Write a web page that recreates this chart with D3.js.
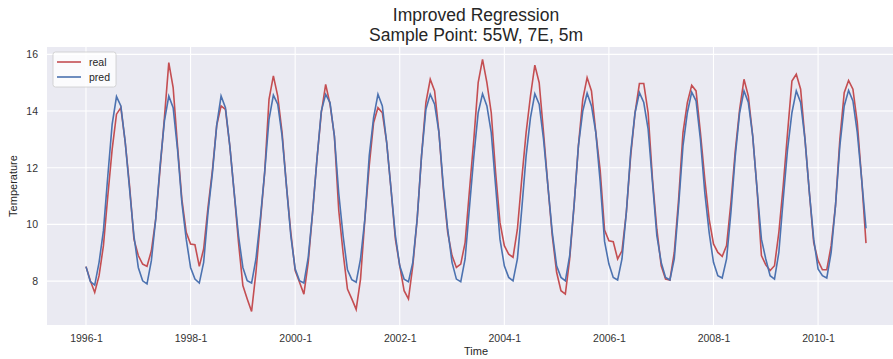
<!DOCTYPE html>
<html>
<head>
<meta charset="utf-8">
<script src="https://cdn.jsdelivr.net/npm/d3@7"></script>
<style>
  body { margin: 0; background: #fff; }
  svg { display: block; font-family: "Liberation Sans", Arial, sans-serif; }
</style>
</head>
<body>
<svg id="chart" width="893" height="359"></svg>
<script>
// Monthly series, 1996-1 .. 2010-12
const startYear = 1996;

const real = [
  8.51, 8.01, 7.60, 8.19, 9.25, 11.0, 12.65, 13.89, 14.12, 12.9, 11.36, 9.48,   // 1996
  8.9, 8.6, 8.52, 9.07, 10.19, 11.95, 13.77, 15.71, 14.83, 12.77, 10.89, 9.72,  // 1997
  9.31, 9.28, 8.52, 9.13, 10.6, 11.9, 13.5, 14.18, 14.06, 12.77, 11.13, 9.36,   // 1998
  7.84, 7.37, 6.93, 8.31, 10.07, 11.83, 14.41, 15.24, 14.53, 13.24, 11.36, 9.72, // 1999
  8.37, 7.96, 7.54, 8.66, 10.42, 12.3, 13.94, 14.94, 14.24, 13.12, 10.5, 9.0,   // 2000
  7.72, 7.37, 7.0, 8.07, 10.19, 12.07, 13.59, 14.12, 13.94, 12.89, 11.24, 9.48, // 2001
  8.54, 7.66, 7.37, 8.54, 10.19, 12.42, 14.3, 15.12, 14.71, 13.24, 11.24, 9.72, // 2002
  8.9, 8.48, 8.6, 9.36, 11.2, 13.0, 15.0, 15.82, 15.0, 13.94, 11.83, 10.07,     // 2003
  9.25, 8.95, 8.84, 9.83, 11.6, 13.24, 14.53, 15.62, 15.0, 13.24, 11.36, 9.6,   // 2004
  8.31, 7.66, 7.54, 8.78, 10.66, 12.77, 14.41, 15.18, 14.71, 13.24, 11.9, 9.8,  // 2005
  9.42, 9.39, 8.78, 9.07, 10.42, 12.42, 13.94, 14.97, 14.97, 13.94, 11.6, 9.83, // 2006
  8.54, 8.07, 8.04, 9.01, 10.89, 13.24, 14.3, 14.91, 14.71, 13.24, 11.6, 10.19, // 2007
  9.31, 9.01, 8.87, 9.25, 10.77, 12.6, 14.06, 15.12, 14.53, 13.12, 11.24, 8.9,  // 2008
  8.57, 8.37, 8.54, 9.72, 11.36, 13.24, 15.06, 15.3, 14.77, 13.0, 11.13, 9.36,  // 2009
  8.72, 8.4, 8.4, 9.25, 10.66, 13.0, 14.65, 15.08, 14.77, 13.59, 11.6, 9.34     // 2010
];

const pred = [
  8.51, 7.98, 7.86, 8.66, 9.78, 11.7, 13.53, 14.51, 14.18, 12.9, 11.24, 9.6,    // 1996
  8.48, 8.01, 7.9, 8.72, 10.19, 12.07, 13.65, 14.53, 14.12, 12.65, 10.77, 9.48, // 1997
  8.48, 8.07, 7.93, 8.66, 10.42, 11.8, 13.5, 14.53, 14.12, 12.77, 11.13, 9.6,   // 1998
  8.48, 8.01, 7.93, 8.78, 10.19, 11.83, 13.71, 14.56, 14.24, 13.12, 11.36, 9.6, // 1999
  8.43, 8.01, 7.93, 8.84, 10.42, 12.3, 14.0, 14.59, 14.3, 13.12, 11.1, 9.6,     // 2000
  8.4, 8.05, 7.96, 8.78, 10.19, 12.42, 13.77, 14.59, 14.18, 12.89, 11.24, 9.6,  // 2001
  8.54, 8.07, 7.98, 8.66, 10.19, 12.42, 14.06, 14.59, 14.24, 13.24, 11.36, 9.83, // 2002
  8.66, 8.07, 7.98, 8.78, 10.6, 12.4, 13.94, 14.61, 14.18, 13.24, 11.36, 9.48,  // 2003
  8.54, 8.13, 8.01, 8.78, 10.54, 12.42, 13.77, 14.61, 14.24, 13.0, 11.36, 9.72, // 2004
  8.54, 8.13, 8.01, 8.9, 10.66, 12.77, 14.0, 14.63, 14.18, 13.24, 11.5, 9.4,    // 2005
  8.6, 8.13, 8.04, 8.78, 10.42, 12.54, 13.94, 14.65, 14.3, 13.36, 11.48, 9.6,   // 2006
  8.66, 8.13, 8.04, 8.78, 10.66, 12.77, 13.94, 14.67, 14.36, 13.0, 11.13, 9.72, // 2007
  8.66, 8.19, 8.11, 8.78, 10.42, 12.42, 13.94, 14.71, 14.3, 13.12, 11.24, 9.48, // 2008
  8.78, 8.19, 8.07, 9.01, 10.89, 12.65, 13.94, 14.71, 14.3, 13.0, 11.13, 9.48,  // 2009
  8.43, 8.19, 8.11, 9.01, 10.66, 12.77, 14.18, 14.73, 14.36, 13.24, 11.6, 9.86  // 2010
];

const xTicks = [0, 24, 48, 72, 96, 120, 144, 168];
const yTicks = [8, 10, 12, 14, 16];

const titleLines = ['Improved Regression', 'Sample Point: 55W, 7E, 5m'];

// Display settings
const bg = '#EAEAF2';
const colorReal = '#C44E52';
const colorPred = '#4C72B0';

const svg = d3.select('#chart');
const plot = { left: 47, top: 47, right: 905, bottom: 325 };

// matplotlib-like 5% margins
const n = real.length;
const xPad = (n - 1) * 0.05;
const x = d3.scaleLinear()
  .domain([-xPad, n - 1 + xPad])
  .range([plot.left, plot.right]);

const y = d3.scaleLinear()
  .domain([6.45, 16.26])
  .range([plot.bottom, plot.top]);

// Plot background
svg.append('rect')
  .attr('x', plot.left)
  .attr('y', plot.top)
  .attr('width', plot.right - plot.left)
  .attr('height', plot.bottom - plot.top)
  .attr('fill', bg);

// Grid lines
svg.append('g')
  .selectAll('line')
  .data(yTicks)
  .join('line')
  .attr('x1', plot.left).attr('x2', plot.right)
  .attr('y1', d => y(d)).attr('y2', d => y(d))
  .attr('stroke', '#fff').attr('stroke-width', 1.1);

svg.append('g')
  .selectAll('line')
  .data(xTicks)
  .join('line')
  .attr('y1', plot.top).attr('y2', plot.bottom)
  .attr('x1', d => x(d)).attr('x2', d => x(d))
  .attr('stroke', '#fff').attr('stroke-width', 1.1);

// Axes (labels only, seaborn darkgrid has no spines)
const xAxis = svg.append('g')
  .attr('transform', `translate(0,${plot.bottom})`)
  .call(d3.axisBottom(x)
    .tickValues(xTicks)
    .tickSize(0)
    .tickPadding(10)
    .tickFormat(d => `${startYear + d / 12}-1`));

const yAxis = svg.append('g')
  .attr('transform', `translate(${plot.left},0)`)
  .call(d3.axisLeft(y)
    .tickValues(yTicks)
    .tickSize(0)
    .tickPadding(9)
    .tickFormat(d3.format('d')));

[xAxis, yAxis].forEach(g => {
  g.select('.domain').remove();
  g.selectAll('text')
    .attr('fill', '#333')
    .style('font-size', '10.5px')
    .style('font-family', '"Liberation Sans", Arial, sans-serif');
});

// Series lines
const line = d3.line()
  .x((d, i) => x(i))
  .y(d => y(d));

svg.append('path')
  .datum(real)
  .attr('d', line)
  .attr('fill', 'none')
  .attr('stroke', colorReal)
  .attr('stroke-width', 1.6);

svg.append('path')
  .datum(pred)
  .attr('d', line)
  .attr('fill', 'none')
  .attr('stroke', colorPred)
  .attr('stroke-width', 1.6);

// Title
svg.append('text')
  .attr('text-anchor', 'middle')
  .attr('fill', '#262626')
  .style('font-size', '17.5px')
  .selectAll('tspan')
  .data(titleLines)
  .join('tspan')
  .attr('x', (plot.left + plot.right) / 2)
  .attr('y', (d, i) => 21 + i * 20)
  .text(d => d);

// Axis titles
svg.append('text')
  .attr('x', (plot.left + plot.right) / 2)
  .attr('y', 355)
  .attr('text-anchor', 'middle')
  .attr('fill', '#262626')
  .style('font-size', '11px')
  .text('Time');

svg.append('text')
  .attr('transform', `translate(17,${(plot.top + plot.bottom) / 2}) rotate(-90)`)
  .attr('text-anchor', 'middle')
  .attr('fill', '#262626')
  .style('font-size', '11px')
  .text('Temperature');

// Legend
const legendData = [
  { label: 'real', color: colorReal },
  { label: 'pred', color: colorPred }
];

const legend = svg.append('g').attr('transform', 'translate(53,52)');

legend.append('rect')
  .attr('width', 63)
  .attr('height', 35)
  .attr('rx', 2.5)
  .attr('fill', '#fff')
  .attr('fill-opacity', 0.8)
  .attr('stroke', '#ccc')
  .attr('stroke-width', 0.8);

const item = legend.selectAll('g.item')
  .data(legendData)
  .join('g')
  .attr('class', 'item')
  .attr('transform', (d, i) => `translate(0,${10 + i * 15})`);

item.append('line')
  .attr('x1', 4).attr('x2', 28)
  .attr('stroke', d => d.color)
  .attr('stroke-width', 1.6);

item.append('text')
  .attr('x', 36)
  .attr('dy', '0.35em')
  .attr('fill', '#262626')
  .style('font-size', '10.5px')
  .text(d => d.label);
</script>
</body>
</html>
